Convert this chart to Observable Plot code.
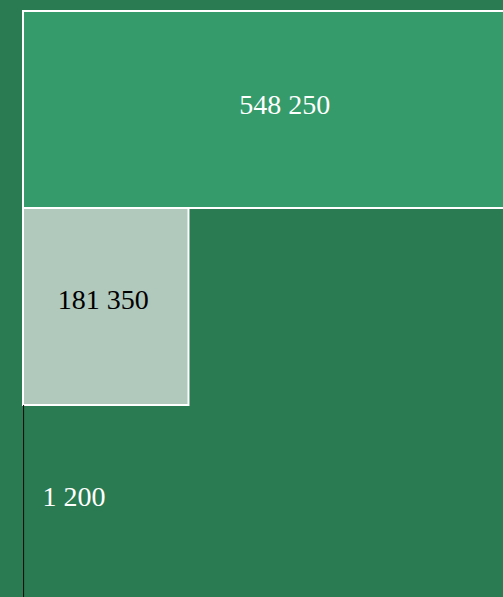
<!DOCTYPE html>
<html>
<head>
<meta charset="utf-8">
<script src="https://cdn.jsdelivr.net/npm/d3@7"></script>
<script src="https://cdn.jsdelivr.net/npm/@observablehq/plot@0.6"></script>
<style>
  html, body { margin: 0; padding: 0; background: #2a7b51; overflow: hidden; }
  #chart svg { display: block; }
</style>
</head>
<body>
<div id="chart"></div>
<script>
const categories = ["A", "B", "C"];
const values = [548250, 181350, 1200];

const data = categories.map((c, i) => ({category: c, value: values[i]}));
const fmt = d3.formatLocale({decimal: ",", thousands: "\u00a0", grouping: [3]}).format(",d");

const chart = Plot.plot({
  width: 503,
  height: 603,
  marginTop: 10,
  marginLeft: 23,
  marginRight: 0,
  marginBottom: 0,
  style: {background: "#2a7b51", overflow: "hidden"},
  x: {domain: [0, 526000], axis: null},
  y: {domain: categories, axis: null, padding: 0},
  color: {domain: categories, range: ["#359b6a", "#b1c8bd", "#111111"]},
  marks: [
    Plot.barX(data.filter(d => d.category !== "C"), {x: "value", y: "category", fill: "category", stroke: "white", strokeWidth: 2}),
    Plot.barX(data.filter(d => d.category === "C"), {x: "value", y: "category", fill: "category"}),
    Plot.text(data.filter(d => d.category === "A"), {x: d => d.value / 2, y: "category", text: d => fmt(d.value), fill: "white", fontSize: 28, fontFamily: "Liberation Serif, serif", dx: 11, dy: -5}),
    Plot.text(data.filter(d => d.category === "B"), {x: d => d.value / 2, y: "category", text: d => fmt(d.value), fill: "black", fontSize: 28, fontFamily: "Liberation Serif, serif", dx: -3, dy: -7}),
    Plot.text(data.filter(d => d.category === "C"), {x: "value", y: "category", text: d => fmt(d.value), fill: "white", fontSize: 28, fontFamily: "Liberation Serif, serif", textAnchor: "start", dx: 18, dy: -7})
  ]
});
document.getElementById("chart").appendChild(chart);
</script>
</body>
</html>
